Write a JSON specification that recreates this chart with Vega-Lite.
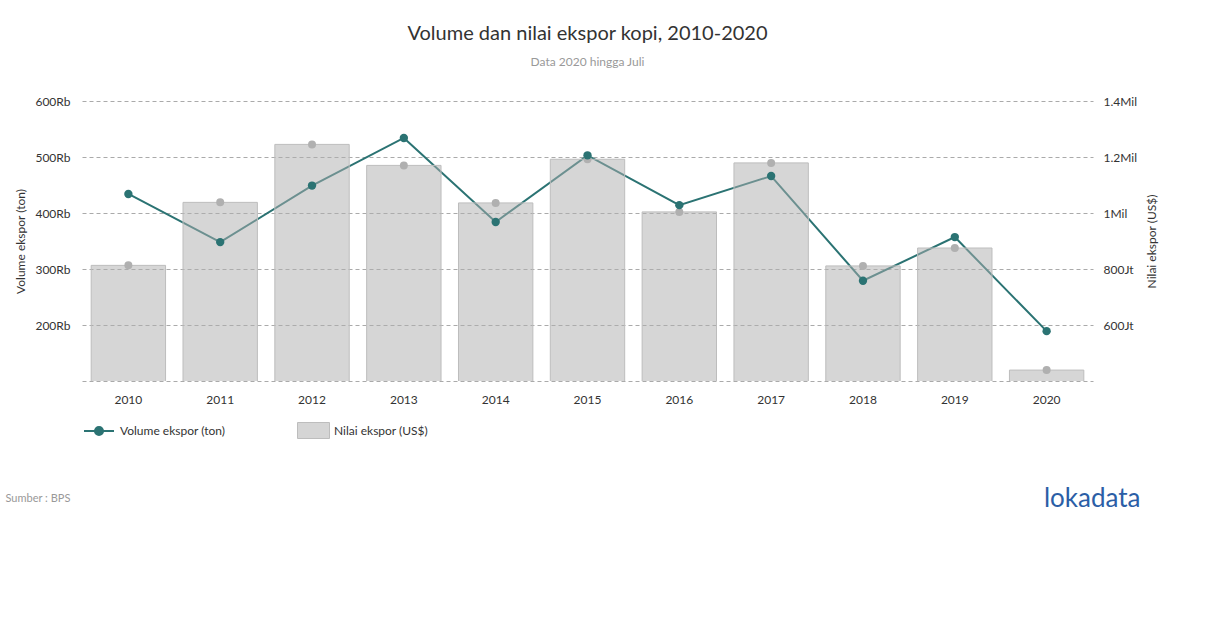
{
  "$schema": "https://vega.github.io/schema/vega-lite/v6.json",
  "width": 1011,
  "height": 280,
  "autosize": {"type": "none"},
  "padding": {"left": 82, "top": 101, "right": 117, "bottom": 247},
  "background": "white",
  "title": {
    "text": "Volume dan nilai ekspor kopi, 2010-2020",
    "subtitle": "Data 2020 hingga Juli",
    "anchor": "middle",
    "font": "Lato",
    "fontSize": 20,
    "fontWeight": "normal",
    "color": "#333333",
    "subtitleFont": "Lato",
    "subtitleFontSize": 12,
    "subtitleColor": "#999999",
    "subtitlePadding": 13,
    "offset": 27
  },
  "config": {
    "view": {"stroke": null},
    "font": "Lato",
    "legend": {"padding": 0}
  },
  "data": {
    "values": [
      {"tahun": "2010", "volume": 434000, "nilai": 813000000},
      {"tahun": "2011", "volume": 348000, "nilai": 1038000000},
      {"tahun": "2012", "volume": 449000, "nilai": 1245000000},
      {"tahun": "2013", "volume": 534000, "nilai": 1170000000},
      {"tahun": "2014", "volume": 384000, "nilai": 1036000000},
      {"tahun": "2015", "volume": 503000, "nilai": 1192000000},
      {"tahun": "2016", "volume": 414000, "nilai": 1004000000},
      {"tahun": "2017", "volume": 466000, "nilai": 1179000000},
      {"tahun": "2018", "volume": 279000, "nilai": 811000000},
      {"tahun": "2019", "volume": 357000, "nilai": 875000000},
      {"tahun": "2020", "volume": 189000, "nilai": 439000000}
    ]
  },
  "encoding": {
    "x": {
      "field": "tahun",
      "type": "ordinal",
      "scale": {"paddingInner": 0.19, "paddingOuter": 0.1},
      "axis": {
        "labelAngle": 0,
        "labelFont": "Lato",
        "labelFontSize": 12,
        "labelColor": "#333333",
        "labelPadding": 13,
        "ticks": false,
        "domain": false,
        "grid": false,
        "title": "Sumber : BPS",
        "titleFont": "Lato",
        "titleFontSize": 11,
        "titleFontWeight": "normal",
        "titleColor": "#999999",
        "titleAnchor": "start",
        "titleAlign": "left",
        "titleBaseline": "alphabetic",
        "titleX": -77,
        "titleY": 120
      }
    }
  },
  "layer": [
    {
      "mark": {"type": "line", "strokeWidth": 2},
      "encoding": {
        "y": {
          "field": "volume",
          "type": "quantitative",
          "scale": {"domain": [100000, 600000], "zero": false, "nice": false},
          "axis": {
            "orient": "left",
            "values": [100000, 200000, 300000, 400000, 500000, 600000],
            "labelExpr": "datum.value == 100000 ? '' : (datum.value / 1000) + 'Rb'",
            "labelFont": "Lato",
            "labelFontSize": 12,
            "labelColor": "#333333",
            "labelPadding": 12,
            "ticks": false,
            "domain": false,
            "grid": true,
            "gridDash": [4, 3],
            "gridColor": "#aaaaaa",
            "gridWidth": 1,
            "title": "Volume ekspor (ton)",
            "titleFont": "Lato",
            "titleFontSize": 12,
            "titleFontWeight": "normal",
            "titleColor": "#333333",
            "titlePadding": 7
          }
        },
        "stroke": {
          "datum": "Volume ekspor (ton)",
          "type": "nominal",
          "scale": {"range": ["#2b7373"]},
          "legend": {
            "orient": "none",
            "legendX": 1,
            "legendY": 314,
            "title": null,
            "symbolType": "M-1,0H1M-0.27,0A0.27,0.27 0 1,0 0.27,0A0.27,0.27 0 1,0 -0.27,0Z",
            "symbolSize": 900,
            "symbolStrokeWidth": 2,
            "labelOffset": 5,
            "labelFont": "Lato",
            "labelFontSize": 12,
            "labelColor": "#333333",
            "encode": {
              "symbols": {
                "update": {
                  "fill": {"value": "#2b7373"},
                  "stroke": {"value": "#2b7373"},
                  "strokeWidth": {"value": 2},
                  "opacity": {"value": 1}
                }
              }
            }
          }
        }
      }
    },
    {
      "layer": [
        {
          "mark": {"type": "bar", "fillOpacity": 0.5, "stroke": "#bdbdbd", "strokeWidth": 1, "clip": true},
          "encoding": {
            "y": {
              "field": "nilai",
              "type": "quantitative",
              "scale": {"domain": [400000000, 1400000000], "zero": false, "nice": false},
              "axis": {
                "orient": "right",
                "values": [600000000, 800000000, 1000000000, 1200000000, 1400000000],
                "labelExpr": "datum.value >= 1000000000 ? format(datum.value / 1000000000, '.1~f') + 'Mil' : (datum.value / 1000000) + 'Jt'",
                "labelFont": "Lato",
                "labelFontSize": 12,
                "labelColor": "#333333",
                "labelPadding": 10,
                "ticks": false,
                "domain": false,
                "grid": false,
                "title": "Nilai ekspor (US$)",
                "titleFont": "Lato",
                "titleFontSize": 12,
                "titleFontWeight": "normal",
                "titleColor": "#333333",
                "titleAngle": 270,
                "titlePadding": 22
              }
            },
            "fill": {
              "datum": "Nilai ekspor (US$)",
              "type": "nominal",
              "scale": {"range": ["#adadad"]},
              "legend": {
                "orient": "none",
                "legendX": 215,
                "legendY": 313,
                "title": null,
                "symbolType": "M-1,-0.5H1V0.5H-1Z",
                "symbolSize": 1024,
                "symbolOpacity": 0.5,
                "symbolStrokeColor": "#7d7d7d",
                "symbolStrokeWidth": 1,
                "labelOffset": 4,
                "labelFont": "Lato",
                "labelFontSize": 12,
                "labelColor": "#333333"
              }
            }
          }
        },
        {
          "mark": {"type": "point", "filled": true, "size": 64, "color": "#b0b0b0", "opacity": 1},
          "encoding": {
            "y": {"field": "nilai", "type": "quantitative"}
          }
        }
      ]
    },
    {
      "mark": {"type": "point", "filled": true, "size": 70, "color": "#2b7373", "opacity": 1},
      "encoding": {
        "y": {
          "field": "volume",
          "type": "quantitative",
          "scale": {"domain": [100000, 600000], "zero": false, "nice": false},
          "axis": {
            "orient": "right",
            "labels": false,
            "ticks": false,
            "domain": false,
            "grid": false,
            "title": "lokadata",
            "titleFont": "Lato",
            "titleFontSize": 26,
            "titleFontWeight": "normal",
            "titleColor": "#2b5ea6",
            "titleAngle": 0,
            "titleAlign": "right",
            "titleBaseline": "alphabetic",
            "titleX": 47,
            "titleY": 405
          }
        }
      }
    }
  ],
  "resolve": {"scale": {"y": "independent", "stroke": "independent", "fill": "independent"}}
}
